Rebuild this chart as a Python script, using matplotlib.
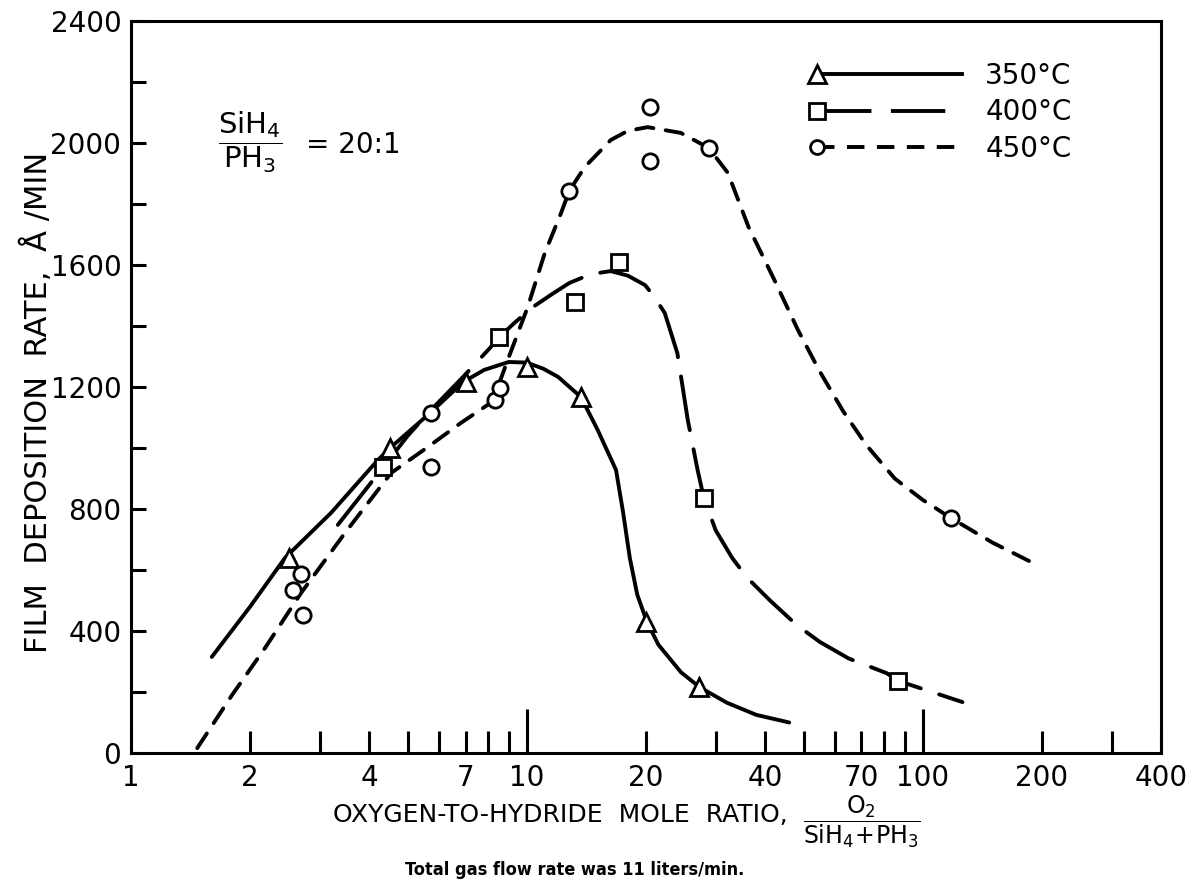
import numpy as np
import matplotlib
matplotlib.use("Agg")
import matplotlib.pyplot as plt
from matplotlib.lines import Line2D
from matplotlib.legend_handler import HandlerLine2D
from matplotlib.ticker import FixedLocator, FixedFormatter, NullFormatter

plt.rcParams.update({
    "font.family": "DejaVu Sans",
    "mathtext.default": "regular",
    "axes.linewidth": 2.2,
})

x350_pts = [2.5, 4.5, 7.0, 10.0, 13.7, 20.0, 27.3]
y350_pts = [640, 1000, 1216, 1266, 1167, 430, 216]
x400_pts = [4.34, 8.5, 13.2, 17.1, 28.0, 86.5]
y400_pts = [938, 1364, 1479, 1610, 836, 236]
x450_pts = [2.56, 2.69, 2.72, 5.72, 5.72, 8.3, 8.53, 12.8, 20.5, 20.5, 28.8, 118]
y450_pts = [534, 587, 452, 1115, 938, 1157, 1197, 1843, 1941, 2118, 1984, 770]

# hand-drawn curves
x350_curve = [1.6, 2.0, 2.45, 3.2, 4.2, 4.54, 5.7, 6.9, 7.8, 9.0, 10.0, 11.0,
              12.0, 13.7, 15.1, 16.8, 17.5, 18.2, 19.0, 20.1, 21.5, 24.5,
              27.3, 32, 38, 46]
y350_curve = [315, 480, 640, 787, 960, 1003, 1115, 1216, 1256, 1282, 1280,
              1260, 1233, 1167, 1059, 928, 790, 640, 520, 430, 355, 265, 216,
              165, 125, 100]
x400_curve = [3.33, 4.0, 4.34, 4.54, 5.0, 5.72, 6.9, 8.07, 8.53, 9.3, 10.3,
              11.5, 12.8, 14.5, 16.3, 18.0, 19.9, 21.0, 22.3, 24.0, 25.5,
              27.0, 28.0, 30, 33, 36, 41, 48, 55, 65, 81, 87, 100, 126]
y400_curve = [748, 879, 938, 970, 1040, 1124, 1233, 1328, 1364, 1410, 1460,
              1502, 1541, 1570, 1580, 1565, 1534, 1495, 1443, 1311, 1092, 928,
              836, 730, 640, 575, 502, 420, 364, 310, 262, 236, 210, 167]
x450_curve = [1.47, 1.8, 2.18, 2.69, 3.47, 3.9, 4.54, 5.62, 6.81, 8.1, 8.45,
              8.95, 10.05, 11.1, 12.2, 12.8, 14.0, 16.3, 18.0, 20.2, 24.5,
              28.8, 32.2, 36.3, 42.2, 48.4, 55, 63, 72, 85, 100, 118, 150, 190]
y450_curve = [16, 190, 344, 525, 721, 807, 918, 1003, 1082, 1148, 1200, 1289,
              1462, 1639, 1770, 1843, 1921, 2010, 2040, 2052, 2033, 1984, 1902,
              1725, 1551, 1387, 1250, 1120, 1010, 900, 830, 770, 690, 623]

x_minor = [1, 2, 3, 4, 5, 6, 7, 8, 9, 20, 30, 40, 50, 60, 70, 80, 90, 200, 300, 400]
x_minor_labels = ["1", "2", "", "4", "", "", "7", "", "", "20", "", "40", "",
                  "", "70", "", "", "200", "", "400"]
x_major = [10, 100]
y_major = [0, 400, 800, 1200, 1600, 2000, 2400]
y_minor = [200, 600, 1000, 1400, 1800, 2200]

LW = 2.8
DASH_400 = (0, (14, 5))
DASH_450 = (0, (4.5, 3.2))


class LeftMarkerHandler(HandlerLine2D):
    """legend: marker at left end of the line"""
    def create_artists(self, *args, **kwargs):
        arts = super().create_artists(*args, **kwargs)
        arts[0].set_markevery([0])
        return arts


fig = plt.figure(figsize=(11.92, 8.86), dpi=100)
ax = fig.add_axes([131 / 1192, (886 - 753) / 886, (1161 - 131) / 1192, (753 - 21) / 886])

ax.plot(x350_curve, y350_curve, color="black", lw=LW, ls="-", solid_capstyle="round")
ax.plot(x400_curve, y400_curve, color="black", lw=LW, ls=DASH_400, dash_capstyle="round")
ax.plot(x450_curve, y450_curve, color="black", lw=LW, ls=DASH_450, dash_capstyle="round")

mk = dict(ls="none", mfc="white", mec="black", mew=2.0, zorder=5)
ax.plot(x350_pts, y350_pts, marker="^", ms=13, **mk)
ax.plot(x400_pts, y400_pts, marker="s", ms=12, **mk)
ax.plot(x450_pts, y450_pts, marker="o", ms=11, **mk)

ax.set_xscale("log")
ax.set_xlim(1, 400)
ax.set_ylim(0, 2400)

ax.xaxis.set_major_locator(FixedLocator(x_major))
ax.xaxis.set_major_formatter(FixedFormatter(["10", "100"]))
ax.xaxis.set_minor_locator(FixedLocator(x_minor))
ax.xaxis.set_minor_formatter(FixedFormatter(x_minor_labels))
ax.set_yticks(y_major)
ax.set_yticks(y_minor, minor=True)
ax.yaxis.set_minor_formatter(NullFormatter())

ax.tick_params(axis="x", which="major", direction="in", length=32, width=2.2,
               labelsize=20, pad=8)
ax.tick_params(axis="x", which="minor", direction="in", length=16, width=2.2,
               labelsize=20, pad=8)
ax.tick_params(axis="y", which="both", direction="in", length=11, width=2.2,
               labelsize=20, pad=7)

# legend
handles = [
    Line2D([], [], color="black", lw=LW, ls="-", marker="^", ms=13, mfc="white", mew=2.0),
    Line2D([], [], color="black", lw=LW, ls=DASH_400, marker="s", ms=12, mfc="white", mew=2.0),
    Line2D([], [], color="black", lw=LW, ls=DASH_450, marker="o", ms=10, mfc="white", mew=2.0),
]
ax.legend(handles, ["350°C", "400°C", "450°C"], loc="upper left",
          bbox_to_anchor=(0.642, 0.978), frameon=False, fontsize=20,
          handlelength=5.2, handletextpad=0.85, labelspacing=0.3,
          handler_map={Line2D: LeftMarkerHandler(numpoints=1)})

# SiH4 / PH3 note
fig.text(250 / 1192, 1 - 142 / 886, r"$\dfrac{SiH_4}{PH_3}$", fontsize=21,
         ha="center", va="center")
fig.text(306 / 1192, 1 - 145 / 886, "= 20:1", fontsize=20, ha="left", va="center")

# axis labels
fig.text(37 / 1192, 1 - 402 / 886, "FILM  DEPOSITION  RATE,  Å /MIN", rotation=90,
         fontsize=22, ha="center", va="center")
fig.text(560 / 1192, 1 - 815 / 886, "OXYGEN-TO-HYDRIDE  MOLE  RATIO,",
         fontsize=18, ha="center", va="center")
fig.text(862 / 1192, 1 - 822 / 886, r"$\dfrac{O_2}{SiH_4\!+\!PH_3}$", fontsize=17,
         ha="center", va="center")
fig.text(575 / 1192, 1 - 870 / 886, "Total gas flow rate was 11 liters/min.",
         fontsize=13, fontweight="bold", fontstretch="condensed",
         ha="center", va="center")

fig.savefig("out.png", dpi=100, facecolor="white")
